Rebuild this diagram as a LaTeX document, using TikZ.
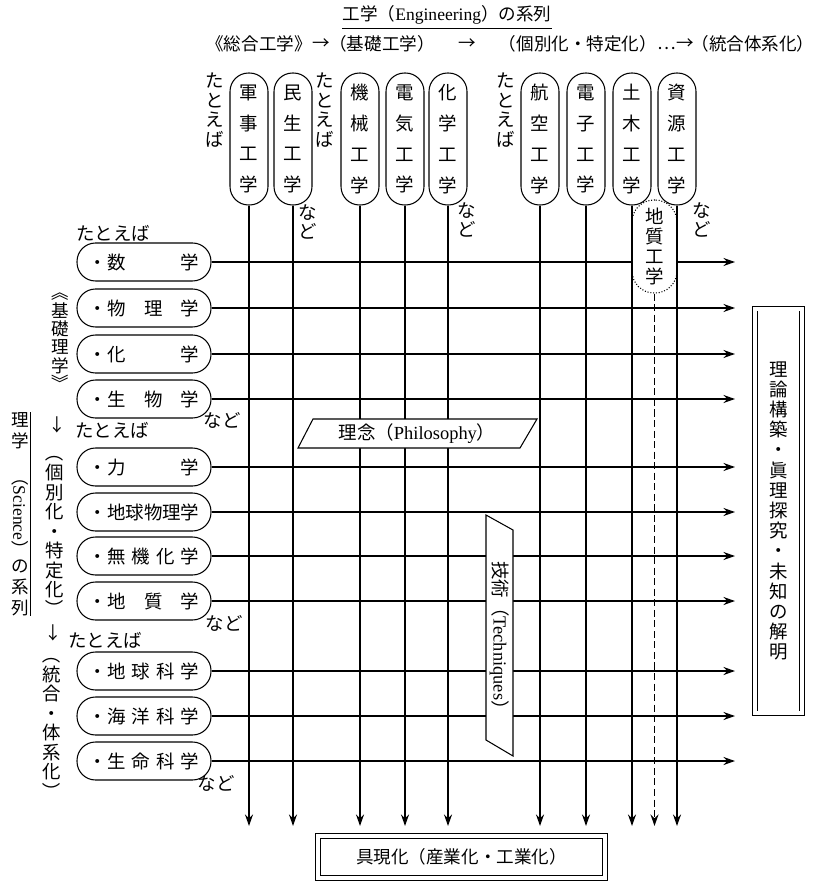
\documentclass[tikz,border=0pt]{standalone}
\usepackage{fontspec}
\setmainfont{Liberation Serif}
\newfontfamily\jp{Noto Sans CJK JP}
\usetikzlibrary{arrows.meta,positioning,calc}

\tikzset{
  gline/.style={line width=1.1pt,-{Stealth[length=6.5pt,width=4.5pt]}},
  pillv/.style={draw,line width=0.6pt,fill=white,rounded corners=0.37cm,minimum width=0.76cm,minimum height=2.64cm,inner sep=0pt,align=center,font=\jp\fontsize{10.5}{17.6}\selectfont},
  pillh/.style={draw,line width=0.6pt,fill=white,rounded corners=0.37cm,minimum width=2.68cm,minimum height=0.76cm,inner sep=0pt,font=\jp\fontsize{10.5}{12}\selectfont},
  tate/.style={inner sep=0pt,align=center,font=\jp\fontsize{10.5}{11.1}\selectfont},
  yoko/.style={inner sep=0pt,font=\jp\fontsize{10}{12}\selectfont},
  boxx/.style={draw,double,double distance=2.3pt,line width=0.5pt,inner sep=0pt},
}
\newcommand{\rtxt}[1]{・\hbox to 5em{#1}}
% brackets turned for vertical setting
\newcommand{\vb}[1]{\rotatebox[origin=c]{-90}{#1}}

\begin{document}
\begin{tikzpicture}[x=0.02cm,y=-0.02cm]
\fill[white] (0,0) rectangle (817,881);
\useasboundingbox (0,0) rectangle (817,881);
\coordinate (vend) at (0,826);
\coordinate (hend) at (735,0);

% heading
\node[yoko] (title) at (447,15) {工学（{\rmfamily Engineering}）の系列};
\draw[double,double distance=1.1pt,line width=0.4pt] ([yshift=-1.5pt]title.south west) -- ([yshift=-1.5pt]title.south east);
\node[yoko] (sogo) at (259,44) {《総合工学》};
\node[yoko] (ar1) at (321,44) {→};
\node[yoko] (kisoK) at (382,44) {（基礎工学）};
\node[yoko] (ar2) at (467,44) {→};
\node[yoko] (kobetsuK) at (578,44) {（個別化・特定化）};
\node[yoko] (ar3) at (676,44) {…→};
\node[yoko] (togoK) at (753,44) {（統合体系化）};

\node[tate] (tatoe1) at (215,110) {た\\と\\え\\ば};
\node[tate] (tatoe2) at (325,110) {た\\と\\え\\ば};
\node[tate] (tatoe3) at (506,110) {た\\と\\え\\ば};
\node[tate] (nado1) at (308,222) {な\\ど};
\node[tate] (nado2) at (467,220) {な\\ど};
\node[tate] (nado3) at (702,220) {な\\ど};

% science side
\node[tate,font=\jp\fontsize{10}{12}\selectfont] (rigaku) at (20,514) {理\\学\\\rotatebox{-90}{（{\rmfamily Science}）}\\の\\系\\列};
\draw[double,double distance=1pt,line width=0.4pt] ([xshift=1.5pt]rigaku.north east) -- ([xshift=1.5pt]rigaku.south east);
\node[tate,font=\jp\fontsize{10}{10.4}\selectfont] (kisoR) at (60,338) {\vb{《}\\基\\礎\\理\\学\\\vb{》}};
\node[yoko] (down1) at (57,425) {↓};
\node[tate] (kobetsuR) at (55,531) {\vb{（}\\個\\別\\化\\・\\特\\定\\化\\\vb{）}};
\node[yoko] (down2) at (53,633) {↓};
\node[tate] (togoR) at (52,723) {\vb{（}\\統\\合\\・\\体\\系\\化\\\vb{）}};

\node[yoko,font=\jp\fontsize{10.5}{12}\selectfont] (tatoeA) at (113,233) {たとえば};
\node[yoko,font=\jp\fontsize{10.5}{12}\selectfont] (tatoeB) at (112,430) {たとえば};
\node[yoko,font=\jp\fontsize{10.5}{12}\selectfont] (tatoeC) at (105,640) {たとえば};
\node[yoko,font=\jp\fontsize{10.5}{12}\selectfont] (nadoA) at (222,420) {など};
\node[yoko,font=\jp\fontsize{10.5}{12}\selectfont] (nadoB) at (224,623) {など};
\node[yoko,font=\jp\fontsize{10.5}{12}\selectfont] (nadoC) at (216,783) {など};

% rows
\node[pillh] (sugaku) at (144,262) {\rtxt{数\hfil 学}};
\node[pillh] (butsuri) at (144,308) {\rtxt{物\hfil 理\hfil 学}};
\node[pillh] (kagakuR) at (144,354) {\rtxt{化\hfil 学}};
\node[pillh] (seibutsu) at (144,399) {\rtxt{生\hfil 物\hfil 学}};
\node[pillh] (rikigaku) at (144,467) {\rtxt{力\hfil 学}};
\node[pillh] (chibutsu) at (144,512) {\rtxt{地\hfil 球\hfil 物\hfil 理\hfil 学}};
\node[pillh] (muki) at (144,556) {\rtxt{無\hfil 機\hfil 化\hfil 学}};
\node[pillh] (chishitsugaku) at (144,601) {\rtxt{地\hfil 質\hfil 学}};
\node[pillh] (chikyu) at (144,671) {\rtxt{地\hfil 球\hfil 科\hfil 学}};
\node[pillh] (kaiyo) at (144,716) {\rtxt{海\hfil 洋\hfil 科\hfil 学}};
\node[pillh] (seimei) at (144,761) {\rtxt{生\hfil 命\hfil 科\hfil 学}};
\foreach \n in {sugaku,butsuri,kagakuR,seibutsu,rikigaku,chibutsu,muki,chishitsugaku,chikyu,kaiyo,seimei}
  \draw[gline] (\n.east) -- (\n.east -| hend);

% columns
\node[pillv,densely dotted,minimum width=0.9cm,minimum height=1.86cm,rounded corners=0.44cm,font=\jp\fontsize{10.5}{11.4}\selectfont] (chishitsu) at (654.5,246.5) {地\\質\\工\\学};
\node[pillv] (gunji) at (249,139) {軍\\事\\工\\学};
\node[pillv] (minsei) at (293,139) {民\\生\\工\\学};
\node[pillv] (kikai) at (360,139) {機\\械\\工\\学};
\node[pillv] (denki) at (405,139) {電\\気\\工\\学};
\node[pillv] (kagaku) at (448,139) {化\\学\\工\\学};
\node[pillv] (koku) at (540,139) {航\\空\\工\\学};
\node[pillv] (denshi) at (586,139) {電\\子\\工\\学};
\node[pillv] (doboku) at (632,139) {土\\木\\工\\学};
\node[pillv] (shigen) at (677,139) {資\\源\\工\\学};
\foreach \n in {gunji,minsei,kikai,denki,kagaku,koku,denshi,doboku,shigen}
  \draw[gline] (\n.south) -- (\n.south |- vend);
\draw[gline,line width=1pt,dash pattern=on 4pt off 2pt] (chishitsu.south) -- (chishitsu.south |- vend);

% philosophy and techniques
\draw[line width=0.6pt,fill=white] (298,448) -- (313,419) -- (537,419) -- (520,448) -- cycle;
\node[yoko,font=\jp\fontsize{10.5}{12}\selectfont] (rinen) at (417,433.5) {理念（{\rmfamily Philosophy}）};
\draw[line width=0.6pt,fill=white] (486,515) -- (513,530) -- (513,756) -- (486,740) -- cycle;
\node[yoko,font=\jp\fontsize{10.5}{12}\selectfont,rotate=-90] (gijutsu) at (499.5,640) {技術（{\rmfamily Techniques}）};

% result boxes
\node[boxx,tate,minimum width=0.94cm,minimum height=8.1cm,font=\jp\fontsize{10.5}{11.5}\selectfont] (kaimei) at (778.5,511) {理\\論\\構\\築\\・\\眞\\理\\探\\究\\・\\未\\知\\の\\解\\明};
\node[boxx,yoko,minimum width=5.74cm,minimum height=0.84cm] (gugenka) at (461.5,857) {具現化（産業化・工業化）};
\end{tikzpicture}
\end{document}
